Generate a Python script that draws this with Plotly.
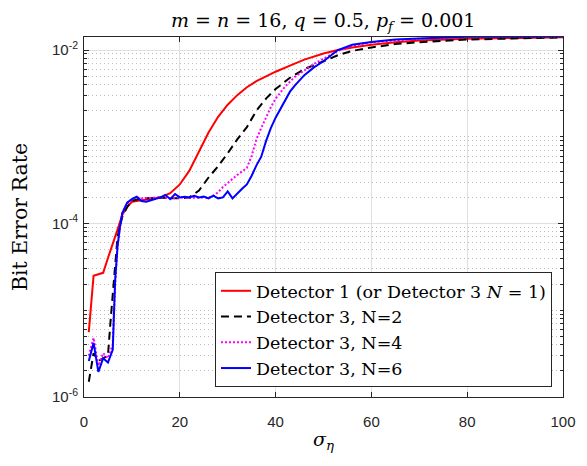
import plotly.graph_objects as go

# ---------------- data ----------------
x_det1 = [1, 2, 3, 4, 5, 6, 7, 8, 9, 10, 12, 14, 16, 18, 20, 22, 24, 26, 28, 30, 32, 34, 36, 38,
          40, 43, 46, 50, 53, 56, 60, 65, 70, 80, 90, 100]
ber_det1 = [5.6e-6, 2.5e-5, 2.6e-5, 2.7e-5, 4.0e-5, 6.0e-5, 8.5e-5, 1.26e-4, 1.55e-4, 1.78e-4,
            1.86e-4, 1.91e-4, 2.0e-4, 2.24e-4, 2.82e-4, 4.07e-4, 6.61e-4, 1.12e-3, 1.70e-3,
            2.34e-3, 3.02e-3, 3.72e-3, 4.37e-3, 5.01e-3, 5.62e-3, 6.61e-3, 7.76e-3, 9.12e-3,
            1.0e-2, 1.07e-2, 1.15e-2, 1.23e-2, 1.29e-2, 1.35e-2, 1.38e-2, 1.40e-2]

x_n2 = [1, 2, 3, 4, 5, 5.5, 6, 6.5, 7, 8, 9, 10, 12, 14, 16, 18, 20, 22, 24, 26, 28, 30, 32,
        34, 36, 38, 40, 43, 46, 50, 53, 56, 60, 65, 70, 80, 90, 100]
ber_n2 = [1.5e-6, 3.2e-6, 2.6e-6, 2.8e-6, 3.0e-6, 7.0e-6, 1.6e-5, 3.8e-5, 7.0e-5, 1.2e-4,
          1.55e-4, 1.82e-4, 1.95e-4, 1.95e-4, 2.0e-4, 1.95e-4, 1.95e-4, 2.0e-4, 2.4e-4,
          3.39e-4, 4.57e-4, 6.46e-4, 9.33e-4, 1.29e-3, 2.0e-3, 2.75e-3, 3.55e-3, 4.79e-3,
          6.03e-3, 7.41e-3, 8.71e-3, 9.77e-3, 1.07e-2, 1.17e-2, 1.23e-2, 1.32e-2, 1.36e-2,
          1.40e-2]

x_n4 = [1, 2, 3, 4, 5, 6, 6.5, 7, 7.5, 8, 9, 10, 11, 12, 14, 16, 18, 20, 22, 24, 26, 27, 28,
        29, 30, 31, 32, 33, 34, 35, 36, 37, 38, 39, 40, 42, 44, 46, 48, 50, 53, 56, 60, 65,
        70, 80, 90, 100]
ber_n4 = [3.0e-6, 4.8e-6, 2.3e-6, 3.2e-6, 2.8e-6, 4.0e-6, 2.0e-5, 5.6e-5, 8.9e-5, 1.32e-4,
          1.70e-4, 1.90e-4, 2.0e-4, 1.95e-4, 1.97e-4, 2.02e-4, 1.95e-4, 2.0e-4, 1.97e-4,
          2.0e-4, 2.0e-4, 2.09e-4, 2.29e-4, 2.63e-4, 2.95e-4, 3.24e-4, 3.63e-4, 3.98e-4,
          4.37e-4, 6.03e-4, 9.33e-4, 1.26e-3, 1.66e-3, 2.19e-3, 2.75e-3, 3.80e-3, 4.90e-3,
          5.89e-3, 6.92e-3, 7.94e-3, 9.77e-3, 1.12e-2, 1.23e-2, 1.29e-2, 1.35e-2, 1.40e-2,
          1.41e-2, 1.42e-2]

x_n6 = [1, 2, 3, 4, 5, 6, 6.5, 7, 7.5, 8, 9, 10, 11, 12, 13, 14, 15, 16, 17, 18, 19, 20, 21,
        22, 23, 24, 25, 26, 27, 28, 29, 30, 31, 32, 33, 34, 35, 36, 37, 38, 39, 40, 41, 42,
        43, 44, 46, 48, 50, 53, 56, 60, 65, 70, 80, 90, 100]
ber_n6 = [2.6e-6, 4.2e-6, 1.95e-6, 2.8e-6, 2.5e-6, 3.5e-6, 2.2e-5, 5.4e-5, 9.1e-5, 1.32e-4,
          1.74e-4, 1.91e-4, 2.04e-4, 1.82e-4, 1.78e-4, 1.86e-4, 1.95e-4, 2.0e-4, 2.14e-4,
          1.91e-4, 2.19e-4, 2.0e-4, 2.04e-4, 2.0e-4, 2.09e-4, 2.0e-4, 2.04e-4, 1.95e-4,
          2.09e-4, 1.95e-4, 2.0e-4, 2.34e-4, 1.95e-4, 2.24e-4, 2.51e-4, 2.82e-4, 3.55e-4,
          4.68e-4, 5.89e-4, 8.91e-4, 1.26e-3, 1.66e-3, 2.09e-3, 2.63e-3, 3.31e-3, 3.89e-3,
          5.13e-3, 6.31e-3, 7.41e-3, 1.0e-2, 1.15e-2, 1.24e-2, 1.32e-2, 1.36e-2, 1.42e-2,
          1.42e-2, 1.43e-2]

labels = ["Detector 1 (or Detector 3 <i>N</i> = 1)", "Detector 3, N=2",
          "Detector 3, N=4", "Detector 3, N=6"]

x_ticks = [0, 20, 40, 60, 80, 100]
y_ticks = [1e-6, 1e-4, 1e-2]
y_ticktext = ["10<sup>-6</sup>", "10<sup>-4</sup>", "10<sup>-2</sup>"]
y_minor = [k * 10.0 ** e for e in range(-6, -1) for k in range(1, 10)
           if not (k == 1 and e in (-6, -4, -2))]

# ---------------- figure ----------------
serif = "DejaVu Serif, serif"
sans = "Liberation Sans, Arial, sans-serif"
axcol = "#262626"

fig = go.Figure()
series = [
    (x_det1, ber_det1, "#ff0000", "solid"),
    (x_n2, ber_n2, "#000000", "8px,5px"),
    (x_n4, ber_n4, "#ff00ff", "2px,2px"),
    (x_n6, ber_n6, "#0000ff", "solid"),
]
for (xs, ys, col, dash), name in zip(series, labels):
    fig.add_trace(go.Scatter(x=xs, y=ys, mode="lines", name=name,
                             line=dict(color=col, width=2, dash=dash)))

title_txt = ("<i>m</i> = <i>n</i> = 16, <i>q</i> = 0.5, "
             "<i>p<sub>f</sub></i> = 0.001")

fig.update_layout(
    width=571, height=450,
    margin=dict(l=76, r=16, t=29, b=61),
    paper_bgcolor="white", plot_bgcolor="white",
    font=dict(family=serif, color="black"),
    title=dict(text=title_txt, x=0.552, xanchor="center", y=0.972, yanchor="middle",
               font=dict(family=serif, size=19, color="black")),
    showlegend=True,
    legend=dict(x=0.977, xanchor="right", y=0.028, yanchor="bottom",
                bgcolor="white", bordercolor=axcol, borderwidth=1,
                font=dict(family=serif, size=17.5, color="black"),
                tracegroupgap=0, itemwidth=30),
)

fig.update_xaxes(
    range=[0, 100], tickvals=x_ticks, ticks="inside", ticklen=5, tickcolor=axcol,
    showline=True, linecolor=axcol, linewidth=1, mirror="ticks",
    showgrid=True, gridcolor="#e0e0e0", gridwidth=1, zeroline=False,
    ticklabelstandoff=11, automargin=False,
    tickfont=dict(family=sans, size=15, color=axcol),
    title=dict(text="<i>σ</i><sub><i>η</i></sub>", font=dict(family=serif, size=19, color="black"),
               standoff=3),
)
fig.update_yaxes(
    type="log", range=[-6, -1.85], tickvals=y_ticks, ticktext=y_ticktext,
    ticks="inside", ticklen=5, tickcolor=axcol,
    showline=True, linecolor=axcol, linewidth=1, mirror="ticks",
    showgrid=True, gridcolor="#e0e0e0", gridwidth=1, zeroline=False,
    automargin=False, ticklabelstandoff=2,
    tickfont=dict(family=sans, size=15, color=axcol),
    minor=dict(tickmode="array", tickvals=y_minor, ticks="inside", ticklen=3,
               tickcolor=axcol, showgrid=True, gridcolor="#bdbdbd", griddash="1px,3px",
               gridwidth=1),
    title=dict(text="Bit Error Rate", font=dict(family=serif, size=20.5, color="black"),
               standoff=18),
)

fig.write_html("out.html")
